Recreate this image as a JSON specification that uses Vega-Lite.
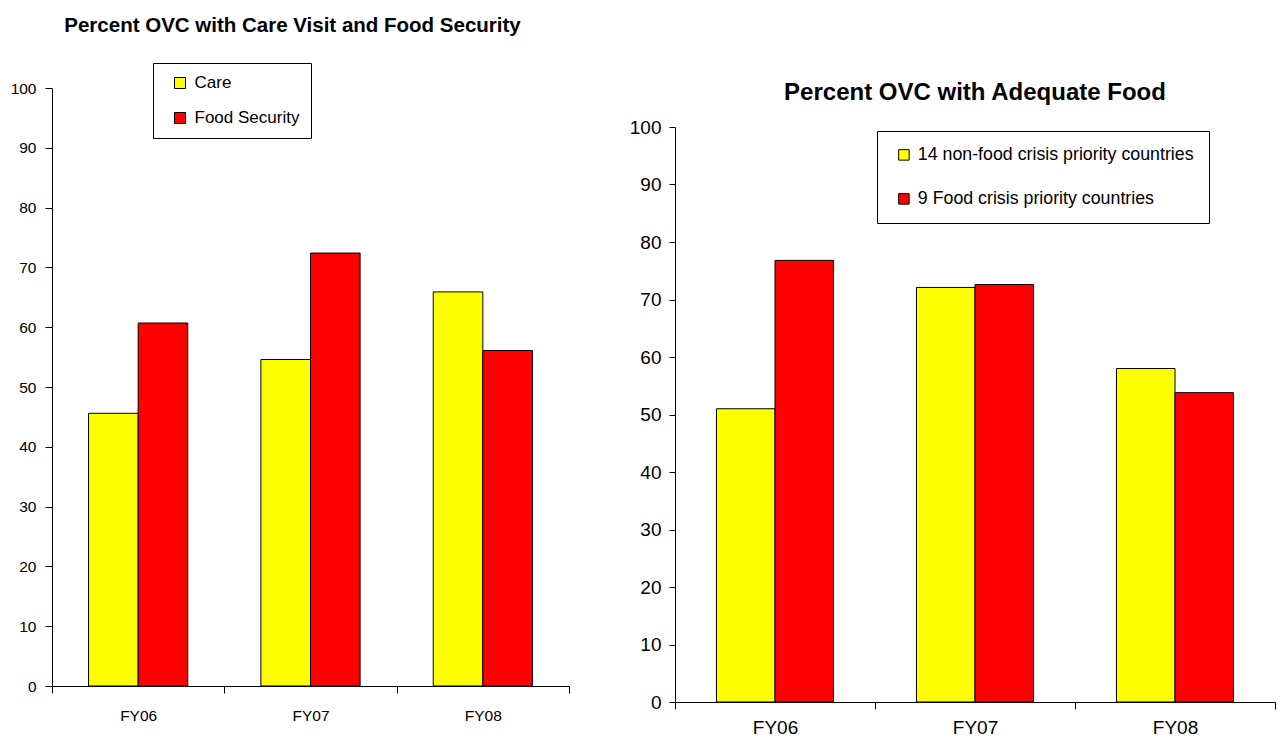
{
  "$schema": "https://vega.github.io/schema/vega-lite/v6.json",
  "autosize": {"type": "pad"},
  "padding": {"left": 10, "top": 16, "right": 0, "bottom": 0},
  "background": "white",
  "bounds": "flush",
  "spacing": 106,
  "config": {
    "view": {"stroke": null},
    "font": "Liberation Sans",
    "axis": {"domainColor": "black", "tickColor": "black", "labelColor": "black", "labelFont": "Liberation Sans", "grid": false, "title": null, "domainWidth": 1, "tickWidth": 1},
    "legend": {"labelFont": "Liberation Sans", "labelColor": "black"}
  },
  "datasets": {
    "left": [
      {"year": "FY06", "series": "Care", "value": 45.6},
      {"year": "FY06", "series": "Food Security", "value": 60.7},
      {"year": "FY07", "series": "Care", "value": 54.6},
      {"year": "FY07", "series": "Food Security", "value": 72.4},
      {"year": "FY08", "series": "Care", "value": 65.9},
      {"year": "FY08", "series": "Food Security", "value": 56.1}
    ],
    "right": [
      {"year": "FY06", "series": "14 non-food crisis priority countries", "value": 51.0},
      {"year": "FY06", "series": "9 Food crisis priority countries", "value": 76.8},
      {"year": "FY07", "series": "14 non-food crisis priority countries", "value": 72.1},
      {"year": "FY07", "series": "9 Food crisis priority countries", "value": 72.6},
      {"year": "FY08", "series": "14 non-food crisis priority countries", "value": 58.0},
      {"year": "FY08", "series": "9 Food crisis priority countries", "value": 53.8}
    ]
  },
  "hconcat": [
    {
      "width": 517,
      "height": 598,
      "title": {"text": "Percent OVC with Care Visit and Food Security", "fontSize": 20.5, "fontWeight": "bold", "font": "Liberation Sans", "color": "black", "frame": "group", "anchor": "middle", "offset": 26, "dx": -18},
      "data": {"name": "left"},
      "mark": {"type": "bar", "stroke": "black", "strokeWidth": 1},
      "encoding": {
        "x": {"field": "year", "type": "nominal", "scale": {"paddingInner": 0, "paddingOuter": 0},
              "axis": {"labelAngle": 0, "tickBand": "extent", "tickSize": 7, "labelPadding": 15, "labelFontSize": 15.5}},
        "xOffset": {"field": "series", "type": "nominal", "sort": ["Care", "Food Security"], "scale": {"paddingInner": 0, "paddingOuter": 0.737}},
        "y": {"field": "value", "type": "quantitative", "scale": {"domain": [0, 100], "nice": false},
              "axis": {"values": [0, 10, 20, 30, 40, 50, 60, 70, 80, 90, 100], "tickSize": 7, "labelPadding": 9, "labelFontSize": 15.5}},
        "color": {"field": "series", "type": "nominal",
                  "scale": {"domain": ["Care", "Food Security"], "range": ["#FFFF00", "#FF0000"]},
                  "legend": {"title": null, "orient": "none", "legendX": 101, "legendY": -25, "fillColor": "white", "strokeColor": "black", "padding": 11.5, "symbolType": "square", "symbolSize": 121, "symbolStrokeColor": "black", "symbolStrokeWidth": 1, "symbolOffset": 7, "labelFontSize": 17, "labelOffset": 6, "rowPadding": 17}}
      }
    },
    {
      "bounds": "flush",
      "spacing": 0,
      "vconcat": [
        {"width": 600, "height": 39, "data": {"values": []}, "mark": "rect", "encoding": {}},
        {
          "width": 600,
          "height": 575,
          "title": {"text": "Percent OVC with Adequate Food", "fontSize": 24, "fontWeight": "bold", "font": "Liberation Sans", "color": "black", "frame": "group", "anchor": "middle", "offset": 13},
          "data": {"name": "right"},
          "mark": {"type": "bar", "stroke": "black", "strokeWidth": 1},
          "encoding": {
            "x": {"field": "year", "type": "nominal", "scale": {"paddingInner": 0, "paddingOuter": 0},
                  "axis": {"labelAngle": 0, "tickBand": "extent", "tickSize": 7, "labelPadding": 9, "labelFontSize": 19}},
            "xOffset": {"field": "series", "type": "nominal", "sort": ["14 non-food crisis priority countries", "9 Food crisis priority countries"], "scale": {"paddingInner": 0, "paddingOuter": 0.709}},
            "y": {"field": "value", "type": "quantitative", "scale": {"domain": [0, 100], "nice": false},
                  "axis": {"values": [0, 10, 20, 30, 40, 50, 60, 70, 80, 90, 100], "tickSize": 6, "labelPadding": 8, "labelFontSize": 19}},
            "color": {"field": "series", "type": "nominal",
                      "scale": {"domain": ["14 non-food crisis priority countries", "9 Food crisis priority countries"], "range": ["#FFFF00", "#FF0000"]},
                      "legend": {"title": null, "orient": "none", "legendX": 202, "legendY": 43, "fillColor": "white", "strokeColor": "black", "padding": 15, "symbolType": "square", "symbolSize": 110, "symbolStrokeColor": "black", "symbolStrokeWidth": 1, "symbolOffset": 3, "labelFontSize": 17.8, "labelOffset": 5, "rowPadding": 25, "labelLimit": 400}}
          }
        }
      ]
    }
  ],
  "resolve": {"scale": {"color": "independent", "xOffset": "independent"}}
}
